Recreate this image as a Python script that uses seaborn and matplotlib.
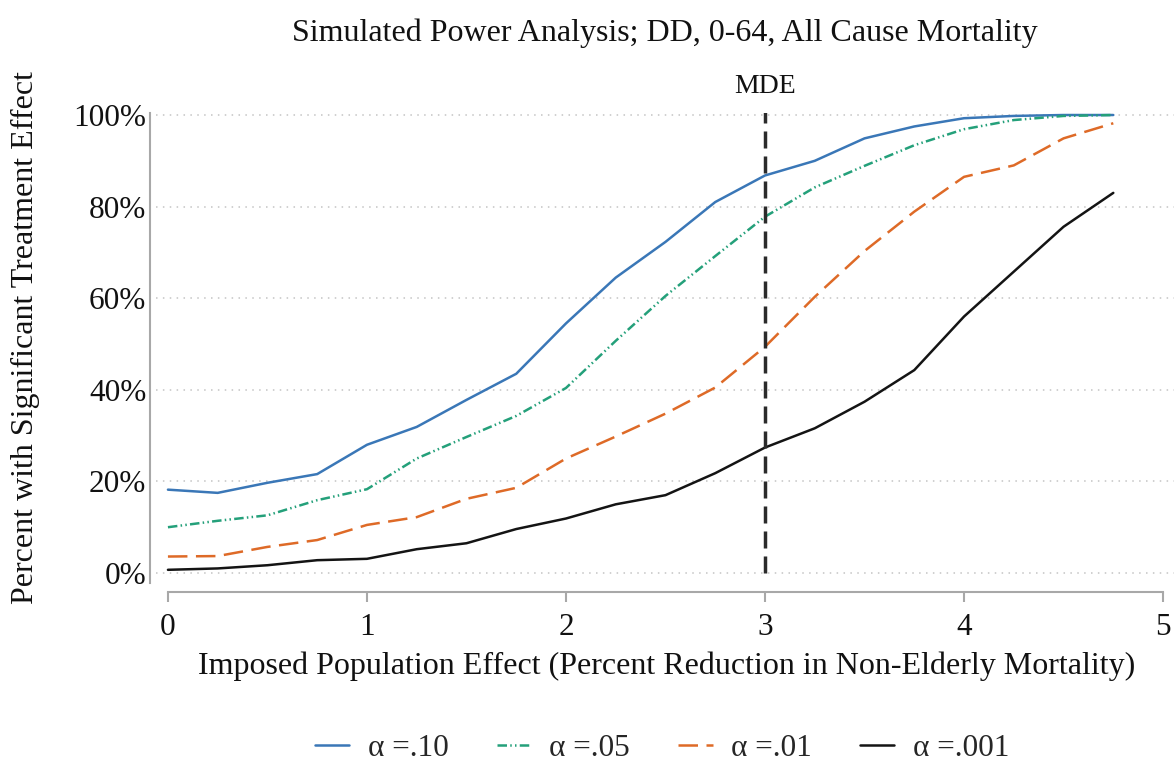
import matplotlib
matplotlib.use("Agg")
import matplotlib.pyplot as plt
import pandas as pd
import seaborn as sns

# Imposed effect sizes (percent reduction) and simulated rejection rates (%)
effect = [0, 0.25, 0.5, 0.75, 1.0, 1.25, 1.5, 1.75, 2.0, 2.25,
          2.5, 2.75, 3.0, 3.25, 3.5, 3.75, 4.0, 4.25, 4.5, 4.75]
power_a10 = [18.2, 17.5, 19.7, 21.6, 28.0, 31.9, 37.8, 43.5, 54.5, 64.5,
             72.3, 81.0, 86.8, 90.0, 94.9, 97.5, 99.3, 99.8, 100.0, 100.0]
power_a05 = [10.0, 11.4, 12.6, 15.9, 18.3, 25.0, 29.7, 34.3, 40.4, 50.7,
             60.5, 69.2, 77.8, 84.2, 88.9, 93.4, 96.9, 98.9, 99.8, 100.0]
power_a01 = [3.6, 3.7, 5.7, 7.2, 10.5, 12.2, 16.2, 18.6, 25.0, 29.8,
             34.8, 40.5, 49.4, 60.3, 70.3, 78.9, 86.5, 89.0, 94.9, 98.2]
power_a001 = [0.7, 1.0, 1.7, 2.8, 3.1, 5.2, 6.5, 9.6, 11.9, 15.0,
              17.0, 21.8, 27.4, 31.6, 37.4, 44.3, 56.0, 65.8, 75.6, 83.0]

series_labels = ["α =.10", "α =.05", "α =.01", "α =.001"]
series_colors = ["#3a77b7", "#24a07a", "#de6a27", "#141414"]
series_dashes = ["", (3.8, 1.3, 0.6, 1.3, 0.6, 1.3), (7.8, 3.4), ""]

mde = 3
x_ticks = [0, 1, 2, 3, 4, 5]
y_ticks = [0, 20, 40, 60, 80, 100]
y_tick_labels = ["0%", "20%", "40%", "60%", "80%", "100%"]

title = "Simulated Power Analysis; DD, 0-64, All Cause Mortality"
x_label = "Imposed Population Effect (Percent Reduction in Non-Elderly Mortality)"
y_label = "Percent with Significant Treatment Effect"

# Long-form table for seaborn
frames = []
for lab, vals in zip(series_labels, [power_a10, power_a05, power_a01, power_a001]):
    frames.append(pd.DataFrame({"effect": effect, "power": vals, "series": lab}))
df = pd.concat(frames, ignore_index=True)

sns.set_theme(style="white")
plt.rcParams["font.family"] = ["Liberation Serif", "DejaVu Serif"]

FS_TICK = 22.5
FS_TEXT = 23
fig = plt.figure(figsize=(11.74, 7.65), dpi=100)
ax = fig.add_axes([156 / 1174, 1 - 583 / 765, 1 - 156 / 1174, 470 / 765])

sns.lineplot(
    data=df, x="effect", y="power", hue="series", style="series",
    hue_order=series_labels, style_order=series_labels,
    palette=dict(zip(series_labels, series_colors)),
    dashes=dict(zip(series_labels, series_dashes)),
    linewidth=1.8, ax=ax, legend=True, zorder=3,
)

# Minimum detectable effect marker
ax.vlines(mde, 0, 101, colors="#2b2b2b", linestyles=(0, (4.9, 2.3)),
          linewidth=2.5, zorder=4)
ax.text(mde, 103.6, "MDE", ha="center", va="bottom", fontsize=20,
        color="#111111", clip_on=False)

ax.set_xlim(-0.06, 5.055)
ax.set_ylim(-2.18, 100.44)
ax.set_xticks(x_ticks)
ax.set_xticklabels([str(t) for t in x_ticks])
ax.set_yticks(y_ticks)
ax.set_yticklabels(y_tick_labels)
ax.set_xlabel("")
ax.set_ylabel("")

ax.yaxis.grid(True, color="#c4c4c4", linestyle=(0, (1, 3.5)), linewidth=1.1)
ax.xaxis.grid(False)

for side in ["top", "right"]:
    ax.spines[side].set_visible(False)
ax.spines["left"].set_color("#a8a8a8")
ax.spines["left"].set_linewidth(1.5)
ax.spines["left"].set_position(("outward", 4.0))
ax.spines["bottom"].set_color("#a8a8a8")
ax.spines["bottom"].set_linewidth(1.5)
ax.spines["bottom"].set_position(("outward", 6.5))
ax.spines["bottom"].set_bounds(0, 5)

ax.tick_params(axis="y", left=False, length=0, pad=3, labelsize=FS_TICK,
               labelcolor="#111111")
ax.tick_params(axis="x", bottom=True, length=7, width=1.5, color="#a8a8a8",
               direction="out", pad=8, labelsize=FS_TICK, labelcolor="#111111")

fig.text(665 / 1174, 1 - 33 / 765, title, ha="center", va="center",
         fontsize=FS_TEXT, color="#111111")
fig.text(667 / 1174, 1 - 666 / 765, x_label, ha="center", va="center",
         fontsize=FS_TEXT, color="#111111")
fig.text(25 / 1174, 1 - 338 / 765, y_label, ha="center", va="center",
         rotation=90, fontsize=FS_TEXT, color="#111111")

handles, labels = ax.get_legend_handles_labels()
ax.get_legend().remove()
fig.legend(handles, labels, loc="center", bbox_to_anchor=(662 / 1174, 1 - 748 / 765),
           ncol=4, frameon=False, fontsize=FS_TICK, handlelength=1.1,
           handletextpad=0.58, columnspacing=1.55, borderaxespad=0)

fig.savefig("out.png", dpi=100)
